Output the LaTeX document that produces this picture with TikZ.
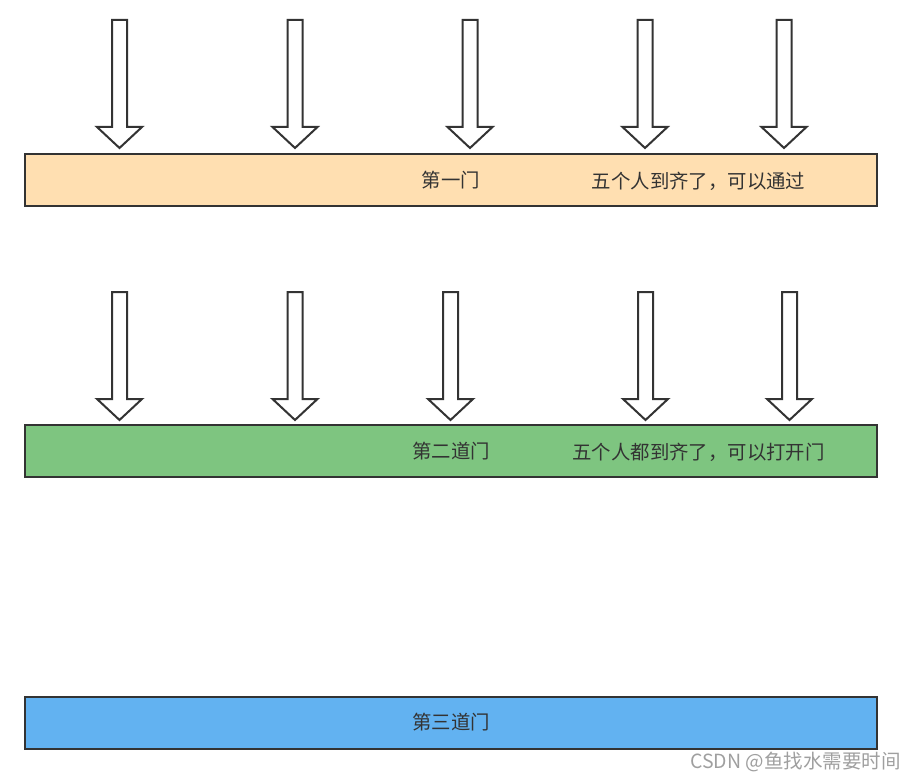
\documentclass[tikz,border=0pt]{standalone}
\usepackage{fontspec}
\setmainfont{Noto Sans CJK SC}
\usetikzlibrary{positioning}

\definecolor{lineGray}{HTML}{333333}
\definecolor{textGray}{HTML}{333333}
\definecolor{gateOrange}{HTML}{FFDFB1}
\definecolor{gateGreen}{HTML}{7EC580}
\definecolor{gateBlue}{HTML}{62B2F1}

\begin{document}
\begin{tikzpicture}[
    x=1pt, y=-1pt,
    font=\fontsize{19.4}{22}\selectfont,
    gate/.style={draw=lineGray, line width=2pt, minimum width=852pt, minimum height=52pt, inner sep=0pt, text=textGray},
    note/.style={text=textGray, inner sep=0pt},
    gatearrow/.pic={\draw[line width=2pt, draw=lineGray, fill=white, line join=miter]
        (-7.5,-128) -- (7.5,-128) -- (7.5,-21) -- (22.5,-21) -- (0,0) -- (-22.5,-21) -- (-7.5,-21) -- cycle;}
  ]
    \useasboundingbox (0,0) rectangle (916,781);

    % three gates
    \node[gate, fill=gateOrange] (gate1) at (451,180) {第一门};
    \node[gate, fill=gateGreen] (gate2) at (451,451) {第二道门};
    \node[gate, fill=gateBlue] (gate3) at (451,722.5) {第三道门};

    \node[note] (msg1) at (698.5,181) {五个人到齐了，可以通过};
    \node[note] (msg2) at (698.5,452) {五个人都到齐了，可以打开门};

    % people arriving
    \foreach \x in {119.5,295,470,645,784}
      \pic at (\x,148) {gatearrow};
    \foreach \x in {119.5,295,450.5,645.5,789.5}
      \pic at (\x,420) {gatearrow};

    \node[text=gray!75, font=\fontsize{19.5}{22}\selectfont, anchor=east, inner sep=0pt] (mark) at (901,762) {CSDN @鱼找水需要时间};
  \end{tikzpicture}
\end{document}
